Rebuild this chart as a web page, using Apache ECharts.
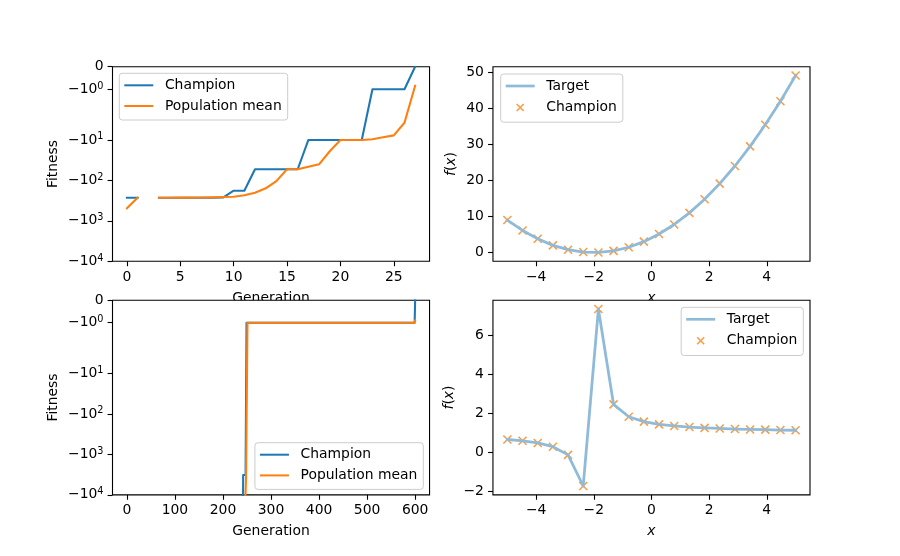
<!DOCTYPE html>
<html><head><meta charset="utf-8">
<script src="https://cdn.jsdelivr.net/npm/echarts@6/dist/echarts.min.js"></script>
<style>html,body{margin:0;padding:0;background:#fff}#c{width:900px;height:556px}</style>
</head><body><div id="c"></div>
<script>
// ---- Data: run 1 (top-left) ----
const gens1 = [0,1,2,3,4,5,6,7,8,9,10,11,12,13,14,15,16,17,18,19,20,21,22,23,24,25,26,27];
const champion1 = [-268,-268,null,-268,-268,-268,-268,-268,-268,-265,-180,-180,-53,-53,-53,-53,-53,-10,-10,-10,-10,-10,-10,-1,-1,-1,-1,0];
const popMean1 = [-490,-268,null,-268,-268,-267,-266,-265,-263,-258,-253,-233,-201,-157,-104,-53,-53,-46,-40,-19,-10,-10,-10,-9.6,-8.6,-7.7,-3.75,-0.85];
// ---- Data: run 2 (bottom-left), change points of the step curves ----
const gens2Champion = [0,241,242,247,249,599,600];
const champion2 = [-1e6,-1e6,-3240,-3240,-1,-1,0];
const gens2Mean = [0,244,248,250,251,599,600];
const popMean2 = [-1e5,-1e5,-3900,-3500,-1,-1,-0.9];
const genMax1 = 27, genMax2 = 600;
// ---- Data: function fits (right) ----
const xs = [-5,-4.474,-3.947,-3.421,-2.895,-2.368,-1.842,-1.316,-0.789,-0.263,0.263,0.789,1.316,1.842,2.368,2.895,3.421,3.947,4.474,5];
const target1 = [9.00,6.13,3.80,1.99,0.80,0.14,0.02,0.47,1.47,3.02,5.12,7.78,10.99,14.76,19.08,23.96,29.39,35.37,41.91,49.00];
const championFx1 = [9.00,6.13,3.80,1.99,0.80,0.14,0.02,0.47,1.47,3.02,5.12,7.78,10.99,14.76,19.08,23.96,29.39,35.37,41.91,49.00];
const target2 = [0.67,0.60,0.49,0.30,-0.12,-1.71,7.33,2.46,1.83,1.58,1.44,1.36,1.30,1.26,1.23,1.20,1.18,1.17,1.15,1.14];
const championFx2 = [0.67,0.60,0.49,0.30,-0.12,-1.71,7.33,2.46,1.83,1.58,1.44,1.36,1.30,1.26,1.23,1.20,1.18,1.17,1.15,1.14];
// ---- Tick values / labels ----
const ticksGen1 = [0,5,10,15,20,25];
const ticksGen2 = [0,100,200,300,400,500,600];
const ticksX = [-4,-2,0,2,4];
const ticksF1 = [0,10,20,30,40,50];
const ticksF2 = [-2,0,2,4,6];
const fitTicks = [0,-1,-10,-100,-1000,-10000];
const fitTickLabels = ['{b|0}','{b|\u221210}{s|0}','{b|\u221210}{s|1}','{b|\u221210}{s|2}','{b|\u221210}{s|3}','{b|\u221210}{s|4}'];

// ---- symlog scale (matplotlib default linthresh=2, linscale=1) ----
const LT = 2, LS = 1 / (1 - 1 / 10);
function symlog(v) {
  if (v == null) return '-';
  const a = Math.abs(v), s = v < 0 ? -1 : 1;
  return a <= LT ? v * LS : s * LT * (LS + Math.log10(a / LT));
}
function pad(lo, hi) { const r = hi - lo; return [lo - 0.05 * r, hi + 0.05 * r]; }
const num = v => String(v).replace('-', '\u2212');

const F = 'DejaVu Sans', FS = 13.9, BLUE = '#1f77b4', ORANGE = '#ff7f0e', TGT = '#8fbbd9';
const txt = {fontFamily: F, fontSize: FS, color: '#000'};
const supRich = {
  b: Object.assign({lineHeight: 16}, txt),
  s: {fontFamily: F, fontSize: 9.7, color: '#000', lineHeight: 10, verticalAlign: 'top', padding: [0, 0, 10, 0]}
};

const W = 317.05, H = 194.6, L1 = 112.5, L2 = 492.95, T1 = 66.72, T2 = 300.24;
function grid(left, top, z) {
  return {left, top, width: W, height: H, show: true, backgroundColor: '#fff', borderColor: '#000', borderWidth: 1.1, z, containLabel: false};
}
function axis(opts) {
  const o = {
    type: 'value', gridIndex: opts.g, min: opts.min, max: opts.max, z: opts.z || 0,
    axisLine: {show: false, onZero: false},
    splitLine: {show: false},
    axisTick: {show: true, inside: false, length: 4.9, lineStyle: {color: '#000', width: 1.1}, customValues: opts.tickVals},
    axisLabel: Object.assign({show: true, margin: opts.margin || 9, customValues: opts.tickVals, formatter: opts.fmt || num}, txt, opts.rich ? {rich: opts.rich} : {}),
    name: opts.name, nameLocation: 'middle', nameGap: opts.gap,
    nameTextStyle: Object.assign({}, txt, opts.nts || {})
  };
  if (opts.rotate) o.nameRotate = 90;
  return o;
}
const fitVals = fitTicks.map(symlog);
const fitFmt = v => { let bi = 0; fitVals.forEach((t, i) => { if (Math.abs(t - v) < Math.abs(fitVals[bi] - v)) bi = i; }); return fitTickLabels[bi]; };
const fitMin = symlog(-1e4);

const xr1 = pad(0, genMax1), xr2 = pad(0, genMax2), xrF = pad(xs[0], xs[xs.length - 1]);
const yr1 = pad(Math.min(...target1), Math.max(...target1));
const yr2 = pad(Math.min(...target2), Math.max(...target2));
const fxName = '{i|f}{n|(}{i|x}{n|)}';
const fxRich = {rich: {i: Object.assign({fontStyle: 'italic'}, txt), n: Object.assign({}, txt)}};

const legendBase = {
  orient: 'vertical', itemWidth: 29, itemHeight: 14, itemGap: 6.7, padding: [5, 6, 7, 5],
  backgroundColor: 'rgba(255,255,255,0.8)', borderColor: '#cccccc', borderWidth: 1, borderRadius: 3,
  selectedMode: false, symbolKeepAspect: true,
  textStyle: Object.assign({padding: [0, 0, 0, 6.6]}, txt),
  formatter: n => n.split('|')[0]
};
const lineIcon = w => 'path://M0,0L30,0L30,' + w + 'L0,' + w + 'Z';
const xIcon = 'path://M0,0L0,0M16,16L16,16M4,4L12,12M12,4L4,12';
const leftLegendData = [
  {name: 'Champion', icon: lineIcon(2.08), itemStyle: {color: BLUE, borderWidth: 0}},
  {name: 'Population mean', icon: lineIcon(2.08), itemStyle: {color: ORANGE, borderWidth: 0}}
];
const rightLegendData = [
  {name: 'Target', icon: lineIcon(2.8), itemStyle: {color: TGT, borderWidth: 0}},
  {name: 'Champion|f', icon: xIcon, itemStyle: {color: ORANGE, borderColor: ORANGE, borderWidth: 1.5}}
];

const lineSeries = (name, xi, yi, data, color, w) => ({
  type: 'line', name, xAxisIndex: xi, yAxisIndex: yi, data, symbol: 'none', showSymbol: false,
  connectNulls: false, clip: true, color, animation: false,
  lineStyle: {color, width: w, join: 'round', cap: 'square'}
});
const scatterSeries = (name, xi, yi, data) => ({
  type: 'scatter', name, xAxisIndex: xi, yAxisIndex: yi, data, animation: false,
  symbol: 'path://M0,0L10,10M10,0L0,10', symbolSize: 8, symbolKeepAspect: true,
  itemStyle: {color: ORANGE, borderColor: ORANGE, borderWidth: 1.5}
});

const option = {
  animation: false,
  backgroundColor: '#fff',
  grid: [grid(L1, T1, 0), grid(L2, T1, 0), grid(L1, T2, 1), grid(L2, T2, 1)],
  xAxis: [
    axis({g: 0, min: xr1[0], max: xr1[1], tickVals: ticksGen1, name: 'Generation', gap: 30}),
    axis({g: 1, min: xrF[0], max: xrF[1], tickVals: ticksX, name: 'x', gap: 30, nts: {fontStyle: 'italic'}}),
    axis({g: 2, min: xr2[0], max: xr2[1], tickVals: ticksGen2, name: 'Generation', gap: 30, z: 2}),
    axis({g: 3, min: xrF[0], max: xrF[1], tickVals: ticksX, name: 'x', gap: 30, nts: {fontStyle: 'italic'}, z: 2})
  ],
  yAxis: [
    axis({g: 0, min: fitMin, max: 0, tickVals: fitVals, fmt: fitFmt, rich: supRich, name: 'Fitness', gap: 52, rotate: true}),
    axis({g: 1, min: yr1[0], max: yr1[1], tickVals: ticksF1, name: fxName, gap: 35, rotate: true, nts: fxRich}),
    axis({g: 2, min: fitMin, max: 0, tickVals: fitVals, fmt: fitFmt, rich: supRich, name: 'Fitness', gap: 52, rotate: true, z: 2}),
    axis({g: 3, min: yr2[0], max: yr2[1], tickVals: ticksF2, name: fxName, gap: 37, rotate: true, nts: fxRich, z: 2})
  ],
  legend: [
    Object.assign({}, legendBase, {left: 119.3, top: 73.3, data: leftLegendData}),
    Object.assign({}, legendBase, {left: 500.7, top: 74, data: rightLegendData}),
    Object.assign({}, legendBase, {right: 476.7, top: 442.7, data: leftLegendData}),
    Object.assign({}, legendBase, {right: 96.7, top: 307.3, data: rightLegendData})
  ],
  series: [
    lineSeries('Champion', 0, 0, gens1.map((g, i) => [g, symlog(champion1[i])]), BLUE, 2.08),
    lineSeries('Population mean', 0, 0, gens1.map((g, i) => [g, symlog(popMean1[i])]), ORANGE, 2.08),
    lineSeries('Champion', 2, 2, gens2Champion.map((g, i) => [g, symlog(champion2[i])]), BLUE, 2.08),
    lineSeries('Population mean', 2, 2, gens2Mean.map((g, i) => [g, symlog(popMean2[i])]), ORANGE, 2.08),
    lineSeries('Target', 1, 1, xs.map((x, i) => [x, target1[i]]), TGT, 2.8),
    scatterSeries('Champion|f', 1, 1, xs.map((x, i) => [x, championFx1[i]])),
    lineSeries('Target', 3, 3, xs.map((x, i) => [x, target2[i]]), TGT, 2.8),
    scatterSeries('Champion|f', 3, 3, xs.map((x, i) => [x, championFx2[i]]))
  ]
};
const chart = echarts.init(document.getElementById('c'), null, {renderer: 'canvas'});
chart.setOption(option);
</script></body></html>
